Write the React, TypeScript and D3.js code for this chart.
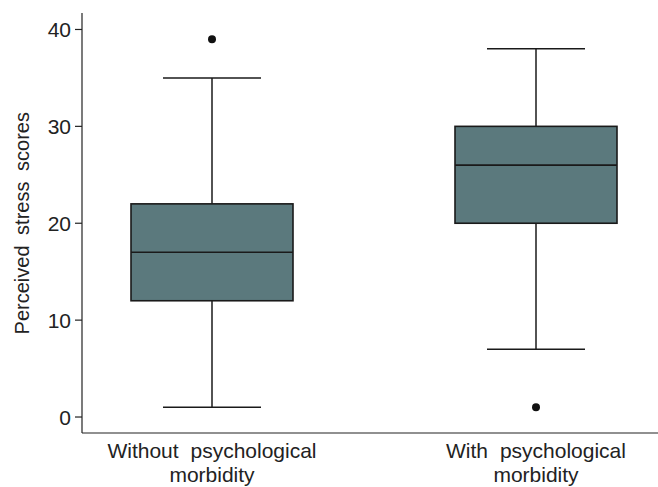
import { useEffect, useRef } from 'react';
import * as d3 from 'd3';

const groups = ['Without psychological morbidity', 'With psychological morbidity'];
const groupLines = [['Without psychological', 'morbidity'], ['With psychological', 'morbidity']];
const lowerWhisker = [1, 7];
const q1 = [12, 20];
const median = [17, 26];
const q3 = [22, 30];
const upperWhisker = [35, 38];
const outliers = [[39], [1]];
const yTicks = [0, 10, 20, 30, 40];

export default function App() {
  const svgRef = useRef<SVGSVGElement>(null);

  useEffect(() => {
    if (!svgRef.current) return;
    const W = 658;
    const H = 487;
    const axisX = 82;
    const axisY = 433;
    const font = 'Liberation Sans, Arial, Helvetica, sans-serif';

    d3.select(svgRef.current).selectAll('*').remove();
    const svg = d3.select(svgRef.current)
      .attr('width', W)
      .attr('height', H)
      .style('position', 'absolute')
      .style('left', 0)
      .style('top', 0);

    const y = d3.scaleLinear().domain([-1.65, 41.7]).range([axisY, 13]);
    const x = d3.scalePoint<string>().domain(groups).range([212, 536]);
    const boxW = 162;
    const capW = 98;

    // axes
    svg.append('line')
      .attr('x1', axisX).attr('x2', axisX)
      .attr('y1', 13).attr('y2', axisY)
      .attr('stroke', '#222').attr('stroke-width', 1.2);
    svg.append('line')
      .attr('x1', axisX).attr('x2', W)
      .attr('y1', axisY).attr('y2', axisY)
      .attr('stroke', '#222').attr('stroke-width', 1.2);

    const ticks = svg.append('g');
    yTicks.forEach(t => {
      ticks.append('line')
        .attr('x1', axisX - 7).attr('x2', axisX)
        .attr('y1', y(t)).attr('y2', y(t))
        .attr('stroke', '#222').attr('stroke-width', 1.2);
      ticks.append('text')
        .attr('x', axisX - 11)
        .attr('y', y(t))
        .attr('dy', '0.36em')
        .attr('text-anchor', 'end')
        .style('font-family', font)
        .style('font-size', '21px')
        .attr('fill', '#222')
        .text(t);
    });

    svg.append('text')
      .attr('transform', `translate(29,${(y(0) + y(40)) / 2}) rotate(-90)`)
      .attr('text-anchor', 'middle')
      .style('font-family', font)
      .style('font-size', '20px')
      .style('word-spacing', '5px')
      .attr('fill', '#222')
      .text('Perceived stress scores');

    groups.forEach((g, i) => {
      const cx = x(g) as number;
      const grp = svg.append('g');
      // whiskers
      grp.append('line')
        .attr('x1', cx).attr('x2', cx)
        .attr('y1', y(q3[i])).attr('y2', y(upperWhisker[i]))
        .attr('stroke', '#1a1a1a').attr('stroke-width', 1.5);
      grp.append('line')
        .attr('x1', cx).attr('x2', cx)
        .attr('y1', y(q1[i])).attr('y2', y(lowerWhisker[i]))
        .attr('stroke', '#1a1a1a').attr('stroke-width', 1.5);
      [upperWhisker[i], lowerWhisker[i]].forEach(v => {
        grp.append('line')
          .attr('x1', cx - capW / 2).attr('x2', cx + capW / 2)
          .attr('y1', y(v)).attr('y2', y(v))
          .attr('stroke', '#1a1a1a').attr('stroke-width', 1.5);
      });
      grp.append('rect')
        .attr('x', cx - boxW / 2)
        .attr('width', boxW)
        .attr('y', y(q3[i]))
        .attr('height', y(q1[i]) - y(q3[i]))
        .attr('fill', '#5b797d')
        .attr('stroke', '#1a1a1a')
        .attr('stroke-width', 1.6);
      grp.append('line')
        .attr('x1', cx - boxW / 2).attr('x2', cx + boxW / 2)
        .attr('y1', y(median[i])).attr('y2', y(median[i]))
        .attr('stroke', '#1a1a1a').attr('stroke-width', 1.6);
      outliers[i].forEach(o => {
        grp.append('circle')
          .attr('cx', cx).attr('cy', y(o))
          .attr('r', 4)
          .attr('fill', '#111');
      });
      groupLines[i].forEach((line, k) => {
        grp.append('text')
          .attr('x', cx)
          .attr('y', 458 + k * 24)
          .attr('text-anchor', 'middle')
          .style('font-family', font)
          .style('font-size', '21px')
          .style('word-spacing', '6px')
          .attr('fill', '#222')
          .text(line);
      });
    });
  }, []);

  return <svg ref={svgRef}></svg>;
}
